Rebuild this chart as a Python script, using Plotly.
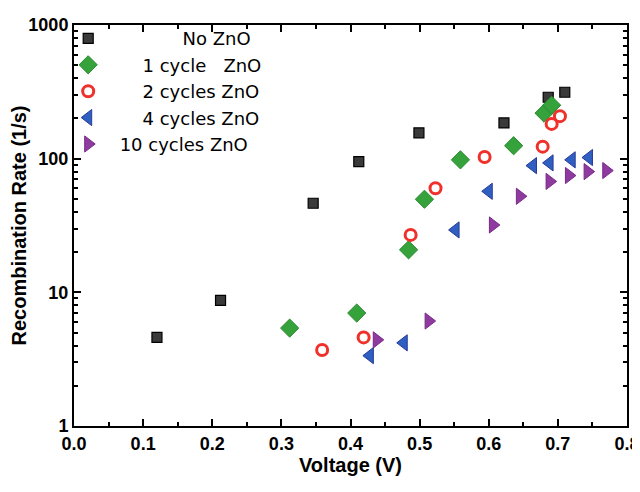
import plotly.graph_objects as go

# ---- data ----
v_none = [0.120, 0.212, 0.346, 0.412, 0.499, 0.622, 0.686, 0.710]
r_none = [4.6, 8.7, 46.4, 95, 156, 185, 288, 314]

v_1c = [0.312, 0.409, 0.484, 0.507, 0.559, 0.636, 0.680, 0.691]
r_1c = [5.4, 7.0, 20.8, 49.7, 98, 125, 219, 251]

v_2c = [0.359, 0.419, 0.487, 0.523, 0.594, 0.678, 0.691, 0.703]
r_2c = [3.7, 4.6, 26.9, 60, 103, 123, 182, 208]

v_4c = [0.428, 0.477, 0.552, 0.600, 0.664, 0.688, 0.720, 0.745]
r_4c = [3.36, 4.19, 29.3, 57, 88.7, 93, 98, 102]

v_10c = [0.438, 0.513, 0.606, 0.645, 0.688, 0.716, 0.743, 0.770]
r_10c = [4.41, 6.1, 31.9, 52.3, 67.6, 74.8, 80, 81.5]

NB = "\u00a0"
names = [NB * 13 + "No ZnO",
         NB * 6 + "1 cycle" + NB * 3 + "ZnO",
         NB * 6 + "2 cycles ZnO",
         NB * 6 + "4 cycles ZnO",
         NB * 2 + "10 cycles ZnO"]

fig = go.Figure()

fig.add_trace(go.Scatter(x=v_none, y=r_none, mode="markers", name=names[0],
                         marker=dict(symbol="square", size=10, color="#3a3a3a",
                                     line=dict(color="#000000", width=1.2))))
fig.add_trace(go.Scatter(x=v_1c, y=r_1c, mode="markers", name=names[1],
                         marker=dict(symbol="diamond", size=14, color="#35a23c",
                                     line=dict(color="#2a8a30", width=1))))
fig.add_trace(go.Scatter(x=v_2c, y=r_2c, mode="markers", name=names[2],
                         marker=dict(symbol="circle-open", size=11, color="#f0302a",
                                     line=dict(color="#f0302a", width=3))))
fig.add_trace(go.Scatter(x=v_4c, y=r_4c, mode="markers", name=names[3],
                         marker=dict(symbol="triangle-left", size=14, color="#2f5fc0",
                                     line=dict(color="#2a3a9a", width=1))))
fig.add_trace(go.Scatter(x=v_10c, y=r_10c, mode="markers", name=names[4],
                         marker=dict(symbol="triangle-right", size=14, color="#8e3a9e",
                                     line=dict(color="#7a2a8a", width=1))))

axis_font = dict(family="Liberation Sans, Arial, sans-serif", size=18, color="black")

fig.update_layout(
    width=632, height=484,
    margin=dict(l=66, r=13, t=13, b=66),
    paper_bgcolor="white", plot_bgcolor="white",
    font=dict(family="Liberation Sans, Arial, sans-serif", color="black"),
    showlegend=True,
    legend=dict(x=-0.0105, y=1.012, xanchor="left", yanchor="top",
                bgcolor="rgba(0,0,0,0)",
                font=dict(family="DejaVu Sans, Liberation Sans, sans-serif", size=18),
                tracegroupgap=0, itemwidth=30),
    xaxis=dict(range=[0, 0.8], dtick=0.1, tickformat=".1f", automargin=False,
               showgrid=False, zeroline=False,
               showline=True, linecolor="black", linewidth=2, mirror="allticks",
               ticks="inside", ticklen=7, tickwidth=2, tickcolor="black",
               minor=dict(ticks="inside", dtick=0.05, ticklen=4, tickwidth=1.5, tickcolor="black"),
               tickfont=axis_font, tickprefix="<b>", ticksuffix="</b>",
               title=dict(text="<b>Voltage (V)</b>", font=dict(size=20), standoff=5)),
    yaxis=dict(type="log", range=[0, 3], automargin=False,
               tickvals=[1, 10, 100, 1000], ticktext=["<b>1</b>", "<b>10</b>", "<b>100</b>", "<b>1000</b>"],
               showgrid=False, zeroline=False,
               showline=True, linecolor="black", linewidth=2, mirror="allticks",
               ticks="inside", ticklen=7, tickwidth=2, tickcolor="black",
               minor=dict(ticks="inside", ticklen=4, tickwidth=1.5, tickcolor="black",
                          tickvals=[2, 3, 4, 5, 6, 7, 8, 9, 20, 30, 40, 50, 60, 70, 80, 90,
                                    200, 300, 400, 500, 600, 700, 800, 900]),
               tickfont=axis_font,
               title=dict(text="<b>Recombination Rate (1/s)</b>", font=dict(size=20), standoff=4)),
)

fig.write_html("out.html")
